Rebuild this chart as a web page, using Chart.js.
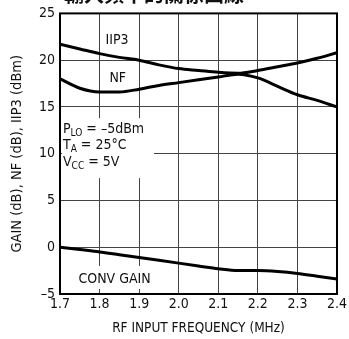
<!DOCTYPE html>
<html>
<head>
<meta charset="utf-8">
<script src="https://cdn.jsdelivr.net/npm/chart.js@4"></script>
<style>
  html, body { margin: 0; padding: 0; background: #fff; }
  #wrap { width: 349px; height: 339px; }
</style>
</head>
<body>
<div id="wrap"><canvas id="chart" width="349" height="339"></canvas></div>
<script>
// frequency (MHz) and the three curves
const freq = [1.7, 1.75, 1.8, 1.85, 1.9, 1.95, 2.0, 2.05, 2.1, 2.15, 2.2, 2.25, 2.3, 2.35, 2.4];
const iip3 = [21.7, 21.2, 20.7, 20.3, 20.0, 19.5, 19.1, 18.9, 18.7, 18.6, 18.9, 19.3, 19.7, 20.2, 20.8];
const nf = [18.0, 17.0, 16.6, 16.6, 16.9, 17.3, 17.6, 17.9, 18.2, 18.5, 18.1, 17.2, 16.3, 15.7, 15.0];
const convGain = [0.0, -0.25, -0.5, -0.8, -1.1, -1.4, -1.7, -2.0, -2.3, -2.5, -2.5, -2.6, -2.8, -3.1, -3.4];
const yTicks = [-5, 0, 5, 10, 15, 20, 25];

const FONT = "'Liberation Sans Narrow', 'DejaVu Sans Condensed', 'Liberation Sans', sans-serif";

function pts(ys) {
    return freq.map((x, i) => ({ x: x, y: ys[i] }));
}

function line(label, ys) {
    return {
        label: label,
        data: pts(ys),
        borderColor: '#000',
        borderWidth: 3,
        pointRadius: 0,
        cubicInterpolationMode: 'monotone',
        fill: false
    };
}

// white boxes under the labels, then the labels themselves
const labels = {
    id: 'labels',
    beforeDatasetsDraw(chart) {
        const ctx = chart.ctx;
        const xs = chart.scales.x, ys = chart.scales.y;
        ctx.save();
        ctx.fillStyle = '#fff';
        // condition block
        ctx.fillRect(xs.left + 2, ys.getPixelForValue(13.8), 92, 60);
        // conv gain label
        ctx.fillRect(xs.left + 2, ys.getPixelForValue(-2.0), 92, 23);
        ctx.restore();
    },
    afterDatasetsDraw(chart) {
        const ctx = chart.ctx;
        const xs = chart.scales.x, ys = chart.scales.y;
        ctx.save();
        ctx.fillStyle = '#111';
        ctx.font = '14px ' + FONT;
        ctx.textBaseline = 'middle';
        ctx.textAlign = 'center';
        ctx.fillText('IIP3', xs.getPixelForValue(1.844), ys.getPixelForValue(22.1));
        ctx.fillText('NF', xs.getPixelForValue(1.846), ys.getPixelForValue(18.1));
        ctx.fillText('CONV GAIN', xs.getPixelForValue(1.838), ys.getPixelForValue(-3.4));

        ctx.textAlign = 'left';
        const x0 = xs.left + 3;
        const rows = [
            ['P', 'LO', ' = \u20135dBm', 12.6],
            ['T', 'A', ' = 25\u00B0C', 10.9],
            ['V', 'CC', ' = 5V', 9.1]
        ];
        rows.forEach(r => {
            const y = ys.getPixelForValue(r[3]);
            ctx.font = '14px ' + FONT;
            ctx.fillText(r[0], x0, y);
            let x = x0 + ctx.measureText(r[0]).width;
            ctx.font = '10px ' + FONT;
            ctx.fillText(r[1], x, y + 4);
            x += ctx.measureText(r[1]).width;
            ctx.font = '14px ' + FONT;
            ctx.fillText(r[2], x, y);
        });

        // frame
        ctx.strokeStyle = '#000';
        ctx.lineWidth = 2;
        ctx.strokeRect(xs.left, ys.top, xs.right - xs.left, ys.bottom - ys.top);

        // cut-off title at the very top
        ctx.font = 'bold 20px "Noto Sans CJK TC"';
        ctx.textAlign = 'left';
        ctx.textBaseline = 'alphabetic';
        ctx.fillText('輸入頻率的關係曲線', 64, 2);
        ctx.restore();
    }
};

new Chart(document.getElementById('chart').getContext('2d'), {
    type: 'line',
    data: {
        datasets: [line('IIP3', iip3), line('NF', nf), line('CONV GAIN', convGain)]
    },
    options: {
        responsive: false,
        animation: false,
        layout: { padding: { top: 12, right: 10, left: 0, bottom: 0 } },
        plugins: {
            legend: { display: false },
            tooltip: { enabled: false }
        },
        scales: {
            x: {
                type: 'linear',
                min: 1.7,
                max: 2.4,
                afterFit(s) { s.height = 45; },
                ticks: {
                    stepSize: 0.1,
                    color: '#111',
                    padding: 2,
                    font: { family: FONT, size: 14 },
                    callback: v => v.toFixed(1)
                },
                grid: { color: '#444', lineWidth: 1, drawTicks: false },
                border: { display: false },
                title: {
                    display: true,
                    text: 'RF INPUT FREQUENCY (MHz)',
                    color: '#111',
                    padding: { top: 2, bottom: 2 },
                    font: { family: FONT, size: 13.5 }
                }
            },
            y: {
                min: -5,
                max: 25,
                afterFit(s) { s.width = 60; },
                afterBuildTicks(s) { s.ticks = yTicks.map(v => ({ value: v })); },
                ticks: {
                    color: '#111',
                    padding: 5,
                    font: { family: FONT, size: 14 },
                    callback: v => v < 0 ? '\u2013' + Math.abs(v) : String(v)
                },
                grid: { color: '#444', lineWidth: 1, drawTicks: false },
                border: { display: false },
                title: {
                    display: true,
                    text: 'GAIN (dB), NF (dB), IIP3 (dBm)',
                    color: '#111',
                    padding: { top: 9, bottom: 0 },
                    font: { family: FONT, size: 14.5 }
                }
            }
        }
    },
    plugins: [labels]
});
</script>
</body>
</html>
